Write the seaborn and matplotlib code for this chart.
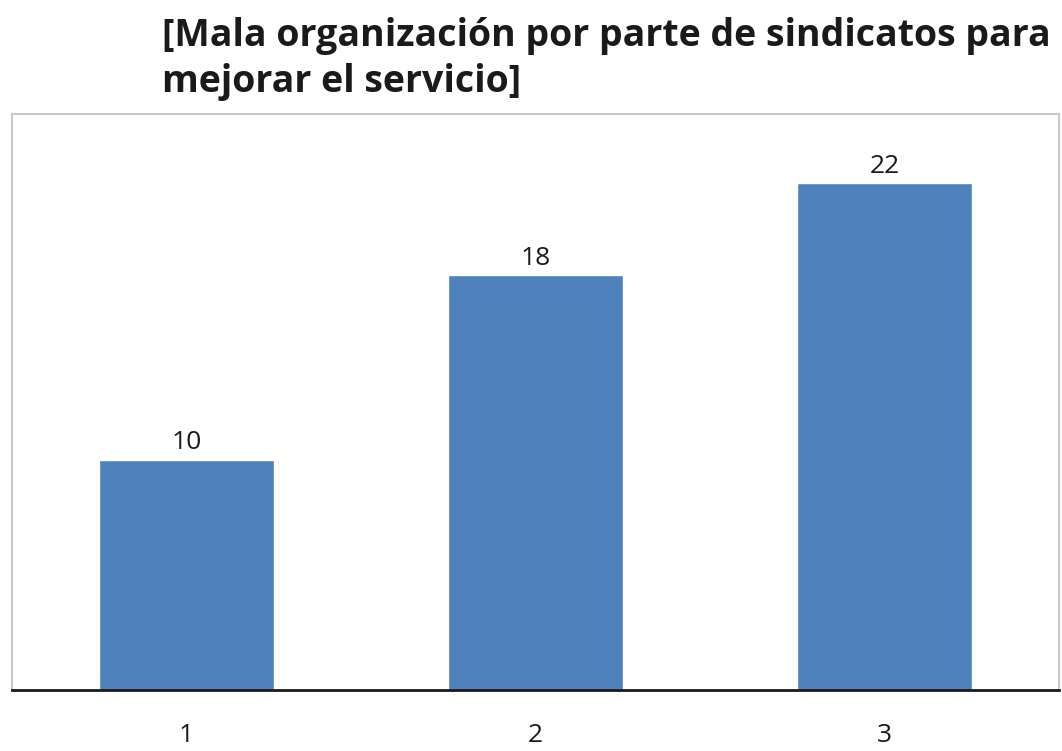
import matplotlib
matplotlib.use("Agg")
import matplotlib.pyplot as plt
import seaborn as sns
import pandas as pd

categories = ["1", "2", "3"]
values = [10, 18, 22]
title = "[Mala organización por parte de sindicatos para\nmejorar el servicio]"

sns.set_theme(style="white")
plt.rcParams["font.family"] = ["Open Sans", "DejaVu Sans"]

df = pd.DataFrame({"cat": categories, "val": values})

fig = plt.figure(figsize=(10.62, 7.51), dpi=100)
ax = fig.add_axes([0.0113, 0.0812, 0.9859, 0.767])

sns.barplot(data=df, x="cat", y="val", color="#4F81BD", saturation=1,
            width=0.5, ax=ax)

ax.set_ylim(0, 25)
ax.set_xlim(-0.5, 2.5)
ax.set_xlabel("")
ax.set_ylabel("")
ax.set_yticks([])

for spine in ["top", "left", "right"]:
    ax.spines[spine].set_color("#c8c8c8")
    ax.spines[spine].set_linewidth(1.5)
ax.spines["bottom"].set_color("#1a1a1a")
ax.spines["bottom"].set_linewidth(2)

ax.tick_params(axis="x", length=0, pad=24, labelsize=19, labelcolor="#1a1a1a")

for i, v in enumerate(values):
    ax.text(i, v + 0.2, str(v), ha="center", va="bottom", fontsize=19,
            color="#1a1a1a")

fig.text(0.153, 0.978, title, ha="left", va="top", fontsize=27,
         fontweight="bold", color="#1a1a1a", linespacing=1.3)

fig.savefig("out.png", dpi=100, facecolor="white")
